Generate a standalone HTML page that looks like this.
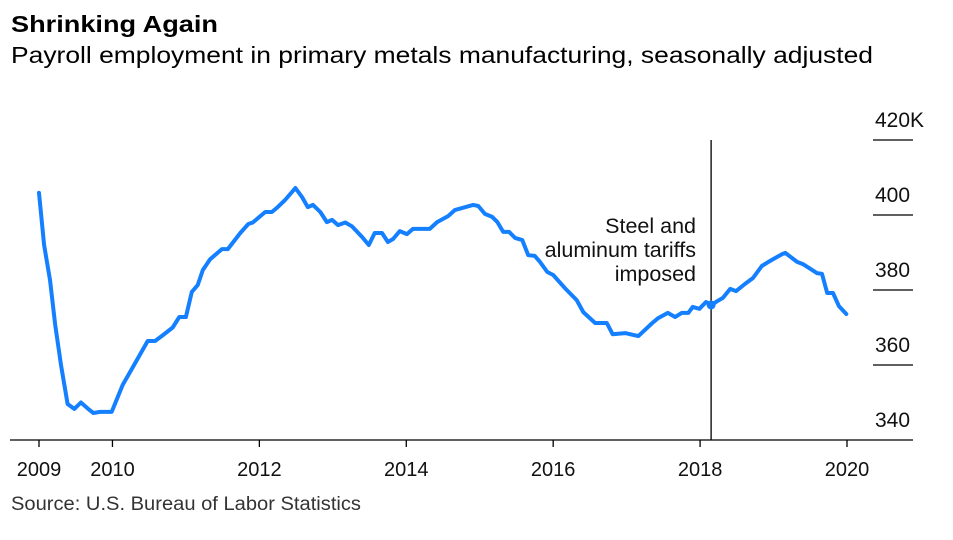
<!DOCTYPE html>
<html><head><meta charset="utf-8"><style>
body{margin:0;background:#fff;}
svg{display:block;font-family:"Liberation Sans",Arial,sans-serif;}
</style></head><body>
<svg id="chart" width="953" height="540" viewBox="0 0 953 540">
<text x="11" y="32" font-size="23" font-weight="bold" fill="#000" textLength="207" lengthAdjust="spacingAndGlyphs">Shrinking Again</text>
<text x="11" y="63" font-size="23" fill="#000" textLength="862" lengthAdjust="spacingAndGlyphs">Payroll employment in primary metals manufacturing, seasonally adjusted</text>
<g id="grid"></g>
<g id="xaxis"></g>
<g id="annot"></g>
<g id="series"></g>
<text x="11" y="510" font-size="19" fill="#333" textLength="350" lengthAdjust="spacingAndGlyphs">Source: U.S. Bureau of Labor Statistics</text>
</svg>
<script>
const dates=[2009.00,2009.07,2009.15,2009.22,2009.30,2009.39,2009.48,2009.57,2009.67,2009.74,2009.83,2009.93,2009.99,2010.14,2010.28,2010.48,2010.58,2010.69,2010.82,2010.91,2011.00,2011.08,2011.16,2011.23,2011.33,2011.49,2011.57,2011.74,2011.85,2011.91,2012.08,2012.17,2012.25,2012.35,2012.49,2012.58,2012.66,2012.73,2012.83,2012.92,2012.99,2013.07,2013.17,2013.26,2013.40,2013.49,2013.57,2013.67,2013.75,2013.82,2013.91,2014.01,2014.09,2014.32,2014.42,2014.57,2014.66,2014.91,2014.98,2015.07,2015.17,2015.24,2015.32,2015.40,2015.48,2015.58,2015.66,2015.75,2015.82,2015.92,2016.00,2016.16,2016.32,2016.41,2016.57,2016.73,2016.81,2016.98,2017.16,2017.35,2017.43,2017.56,2017.66,2017.75,2017.84,2017.90,2017.99,2018.08,2018.16,2018.23,2018.31,2018.41,2018.49,2018.61,2018.72,2018.84,2018.93,2019.02,2019.12,2019.16,2019.32,2019.40,2019.59,2019.66,2019.73,2019.81,2019.89,2019.99];
const values=[405.9,392,382.7,370.7,360,349.6,348.3,350,348.3,347.2,347.5,347.5,347.5,354.7,359.5,366.4,366.4,368,370,372.8,372.8,379.5,381.3,385.3,388.2,390.9,390.9,395.2,397.6,398,400.8,400.8,402.1,404,407.2,404.8,402.1,402.7,400.8,398.1,398.7,397.3,398,397,394.1,392,395.2,395.2,392.8,393.6,395.7,394.9,396.3,396.3,398.1,399.7,401.3,402.7,402.4,400.3,399.5,398.1,395.5,395.5,393.9,393.3,389.3,389.1,387.5,384.8,384,380.5,377.3,374.1,371.2,371.2,368.2,368.5,367.7,371.2,372.5,373.9,372.8,373.9,373.9,375.5,375,376.8,376,377,377.9,380.3,379.7,381.6,383.2,386.4,387.5,388.5,389.6,389.9,387.5,386.9,384.5,384.3,379.2,379.2,375.7,373.6];
const yTicks=[340,360,380,400,420];
const yTickLabels=["340","360","380","400","420K"];
const xTicks=[2009,2010,2012,2014,2016,2018,2020];
const xTickLabels=["2009","2010","2012","2014","2016","2018","2020"];
const eventDate=[2018.15];
const eventValue=[376];

const NS="http://www.w3.org/2000/svg";
const xs=d=>39+(d-2009)*(808/11);
const ys=v=>440-(v-340)*3.75;
function mk(tag,attrs,parent){const e=document.createElementNS(NS,tag);for(const k in attrs)e.setAttribute(k,attrs[k]);parent.appendChild(e);return e;}
const grid=document.getElementById('grid');
yTicks.forEach((t,i)=>{
  if(t>340){
    const l=mk('line',{x1:873,x2:913,y1:ys(t),y2:ys(t),stroke:'#000','stroke-width':1.3},grid);
    
    
  }
  const tx=mk('text',{x:875,y:ys(t)-13,'text-anchor':'start','font-size':21,fill:'#111'},grid);
  tx.textContent=yTickLabels[i];
  
  
});
const xa=document.getElementById('xaxis');
const base=mk('line',{x1:10,x2:913,y1:440,y2:440,stroke:'#000','stroke-width':1.3},xa);


xTicks.forEach((t,i)=>{
  const tk=mk('line',{x1:xs(t),x2:xs(t),y1:440,y2:447,stroke:'#000','stroke-width':1.3},xa);
  
  
  const tx=mk('text',{x:xs(t),y:476,'text-anchor':'middle','font-size':20,fill:'#111'},xa);
  tx.textContent=xTickLabels[i];
  
  
});
const an=document.getElementById('annot');
const ex=xs(eventDate[0]);
const vl=mk('line',{x1:ex,x2:ex,y1:140,y2:440,stroke:'#000','stroke-width':1.3},an);


["Steel and","aluminum tariffs","imposed"].forEach((s,i)=>{
  const t=mk('text',{x:696,y:233+i*24,'text-anchor':'end','font-size':21.5,fill:'#111'},an);
  t.textContent=s;
  
  
});
const sg=document.getElementById('series');
const p=mk('polyline',{points:dates.map((d,i)=>xs(d).toFixed(1)+','+ys(values[i]).toFixed(1)).join(' '),fill:'none',stroke:'#1480ff','stroke-width':4,'stroke-linejoin':'round','stroke-linecap':'round'},sg);


const dot=mk('circle',{cx:ex,cy:ys(eventValue[0]),r:4.5,fill:'#1480ff'},sg);


</script>
</body></html>
